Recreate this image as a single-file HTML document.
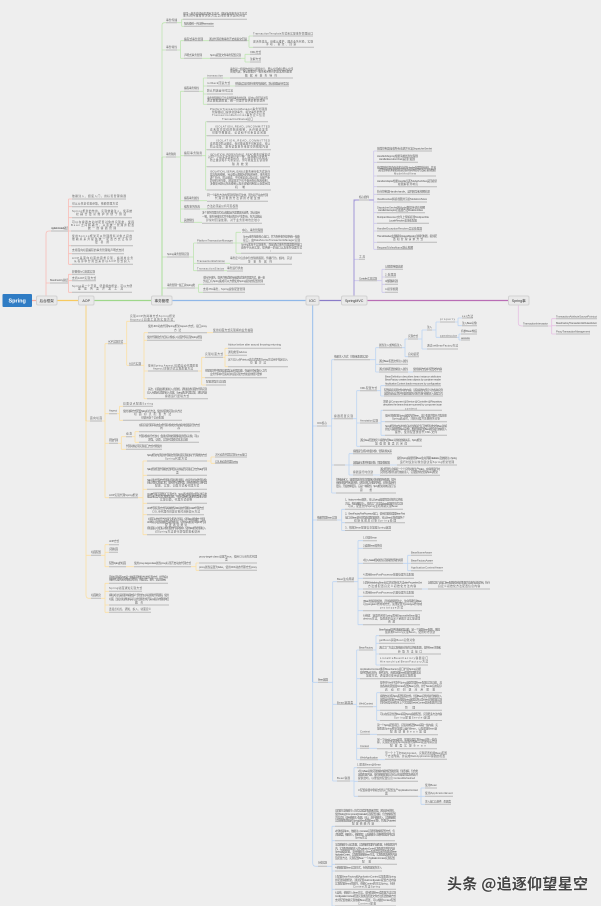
<!DOCTYPE html>
<html lang="zh"><head><meta charset="utf-8"><title>Spring</title>
<style>
html,body{margin:0;padding:0;background:#eee;width:601px;height:906px;overflow:hidden}
svg{display:block}
#m{filter:blur(.3px)}
text{font:2.700px "Liberation Sans","Noto Sans CJK SC",sans-serif;fill:#5f5f5f}
.u{stroke:#b9b9b9;stroke-width:1;fill:none}
.c{fill:none;stroke-width:.8}
.n{fill:#e9e9e9;stroke:#d2d2d2;stroke-width:1}
.l{font-size:3.600px;fill:#333;text-anchor:middle}
</style></head><body>
<svg width="601" height="906" viewBox="0 0 601 906" xmlns="http://www.w3.org/2000/svg">
<rect width="601" height="906" fill="#eee"/>
<g id="m">
<path class="c" stroke="#f9bcb6" d="M46 296V234Q46 231 49 231H51M46 283H50M68 231H71M68.5 199V264.3M68.5 199H72M68.5 206.7H72M68.5 217.7H72M68.5 231H71M68.5 245.7H71M68.5 253.7H72M68.5 264.3H72M68 283H68.5M68.5 274.3V292.3M68.5 274.3H72M68.5 280.7H72M68.5 292.3H72"/>
<path class="c" stroke="#bfe5b2" d="M162 296V25Q162 22.7 165 22.7H166M162 50H166M162 157H166M162 257H167M162 288H167M177 22.7H181.7M181.7 19.3V26.3M181.7 19.3H183M181.7 26.3H184M177 50H180.5M180.5 40.7V58.3M180.5 40.7H184M180.5 58.3H184M203 40.7H209M247 40.7H249M249 36V47.3M249 36H253M249 47.3H253M202 58.3H210M241 58.3H245M245 54.3V62M245 54.3H250M245 62H250M176 157H180.5M180.5 91.3V222.3M180.5 91.3H184M180.5 155.7H184M180.5 200.7H184M180.5 209H184M180.5 222.3H184M199 91.3H203.3M203.3 78V104.3M203.3 78H207M203.3 86H207M203.3 94H207M203.3 104.3H207M223 78H230M230 86H235M202 155.7H205.7M205.7 121.7V190M205.7 121.7H207M205.7 135.7H207M205.7 149.7H207M205.7 166.7H207M205.7 190H207M199 200.7H207M200 209H207M194 222.3H202M189 257H193.6M193.6 243V270.7M193.6 243H197M193.6 263.3H197M193.6 270.7H197M233 243H236M236 232.3V253.3M236 232.3H241M236 243H243M236 253.3H241M225 263.3H230M224 270.7H227M195 288H198.6M198.6 284.3V292.3M198.6 284.3H203M198.6 292.3H203"/>
<path class="c" stroke="#fbdfa4" d="M86 305V595Q86 598.3 89 598.3H91M86 421H90M86 555.3H91M102 421H105M105 343.7V497.7M105 343.7H108M105 413.7H109M105 443.3H109M105 497.7H109M123 343.7H126.7M126.7 321.3V365.3M126.7 321.3H130M126.7 365.3H129M141 365.3H144M144 332.7V398.7M144 332.7H148M144 340.3H147M144 371H148M144 398.7H147M207 332.7H213M198 371H201.7M201.7 357.3V385M201.7 357.3H205M201.7 377.7H205M201.7 385H206M223 357.3H225M225 348.3V366.7M225 348.3H228M225 355.3H228M225 366.7H228M117 413.7H119.5M119.5 406.3V420.3M119.5 406.3H123M119.5 420.3H123M118 443.3H121.3M121.3 436.7V449.3M121.3 436.7H126M121.3 449.3H126M132 436.7H135M135 431.7V442.3M135 431.7H139M135 442.3H139M138 497.7H143M143 461V534.7M143 461H147M143 475.3H147M143 489.3H147M143 503.3H147M143 514.7H147M143 534.7H147M207 461H211M211 457V463.3M211 457H215M211 463.3H215M101 555.3H105M105 544.7V566.7M105 544.7H109M105 552.3H109M105 566.7H109M126 566.7H134M191 566.7H196M196 563V570.3M196 563H199M196 570.3H199M101 598.3H105M105 583.3V612.3M105 583.3H109M105 591.3H109M105 605H109M105 612.3H109"/>
<path class="c" stroke="#bcd4f2" d="M312.7 305V863Q312.7 866.3 316 866.3H318M312.7 426H317M312.7 520H317M312.7 682.3H318M327 426H331.7M331.7 359.7V493M331.7 359.7H334M331.7 418.7H334M331.7 465H334M331.7 493H336M370 359.7H375.7M375.7 347.7V372M375.7 347.7H379M375.7 364.3H379M375.7 372H379M402 347.7H405M405 339V356.7M405 339H408M405 356.7H408M418 339H422M422 330V349M422 330H427M422 349H427M432 330H436M436 322V337.3M436 322H440M436 337.3H440M455 322H458M458 318V325.7M458 318H462M458 325.7H462M457 337.3H459M459 334V340M459 334H461M459 340H461M408 372H413M353 418.7H356.7M356.7 390.7V446.3M356.7 390.7H360M356.7 423H360M356.7 446.3H360M377 390.7H380.7M380.7 385.7V396M380.7 385.7H385M380.7 396H384M378 423H381M381 410.3V435.3M381 410.3H383M381 421.7H385M381 435.3H385M345 465H349M349 453.7V475M349 453.7H353M349 465H353M349 475H353M390 465H397M373 475H380M337 520H341.7M341.7 509.3V530.5M341.7 509.3H345M341.7 522.7H345M341.7 530.5H345M328 682.3H332.7M332.7 581.7V781M332.7 581.7H337M332.7 704.3H337M332.7 781H337M354 581.7H358M358 540.7V624.7M358 540.7H363M358 548.3H363M358 563.3H363M358 578.3H363M358 589H363M358 596.3H363M358 610.7H363M358 624.7H363M403 563.3H407.7M407.7 555.3V570.7M407.7 555.3H411M407.7 563.3H411M407.7 570.7H411M422 589H428M353 704.3H356.7M356.7 650V759.7M356.7 650H359M356.7 678.7H360M356.7 706.7H359M356.7 734.3H360M356.7 748.3H360M356.7 759.7H360M373 650H376M376 635.7V665M376 635.7H379M376 643.3H379M376 654H379M376 665H380M373 706.7H376.7M376.7 692.7V720.5M376.7 692.7H380M376.7 710.3H380M376.7 720.5H380M370 734.3H377M369 748.3H377M378 759.7H385M350 781H354M354 767.7V796.3M354 767.7H357M354 781.3H358M354 796.3H358M418 796.3H421M421 788V804.3M421 788H425M421 796.3H425M421 804.3H425M327 866.3H332M332 826.3V906M332 826.3H335M332 840.7H335M332 864.3H335M332 871H335M332 889.3H335M332 906H335"/>
<path class="c" stroke="#cbc6ea" d="M354 297V203Q354 200 357 200H359M354 259.3H359M354 280.7H359M369 200H373.7M373.7 151V249.3M373.7 151H377M373.7 162.3H377M373.7 176H377M373.7 186.7H377M373.7 194.3H377M373.7 202H377M373.7 212.7H377M373.7 223.3H377M373.7 231H377M373.7 242.3H377M373.7 249.3H377M377 280.7H382M382 269.3V292.3M382 269.3H385M382 277H385M382 284.3H385M382 292.3H385"/>
<path class="c" stroke="#e6bfe3" d="M518.3 305V323Q518.3 326 522 326H523M548 326H551.7M551.7 318.7V334M551.7 318.7H556M551.7 325.7H556M551.7 334H556"/>
<path fill="none" stroke-width="1.200" stroke="#f5a9a0" d="M32 300.5H36"/>
<path fill="none" stroke-width="1.200" stroke="#f7c95f" d="M57 300.5H78"/>
<path fill="none" stroke-width="1.200" stroke="#9ed78a" d="M94 300.5H151"/>
<path fill="none" stroke-width="1.200" stroke="#8fb7e8" d="M172 300.5H306"/>
<path fill="none" stroke-width="1.200" stroke="#8a7cc8" d="M319 300.5H341"/>
<path fill="none" stroke-width="1.200" stroke="#b96db5" d="M367 300.5H508"/>
<path fill="none" stroke-width=".9" stroke="#f7d27c" d="M86 305V421"/>
<path fill="none" stroke-width=".9" stroke="#a8dc96" d="M162 296V157"/>
<path fill="none" stroke-width=".9" stroke="#97bdea" d="M312.7 305V682"/>
<path fill="none" stroke-width=".9" stroke="#9d92d6" d="M354 297V200H373.7"/>

<path class="u" d="M51 231H68M50 283H68M72 199H126M72 206.7H118M72 217.7H132M71 231H134M71 245.7H133M72 253.7H124M72 264.3H133M72 274.3H95M72 280.7H96M72 292.3H132"/>
<path class="u" d="M166 22.7H177M183 19.3H247M184 26.3H214M166 50H177M184 40.7H203M209 40.7H247M253 36H313M253 47.3H314M184 58.3H202M210 58.3H241M250 54.3H261M250 62H261M184 91.3H199M207 78H223M230 78H293M207 86H230M235 86H289M207 94H233M207 104.3H268M166 157H176M184 155.7H202M207 121.7H268M207 135.7H269M207 149.7H271M207 166.7H270M207 190H271M184 200.7H199M207 201.3H268M184 209H200M207 208.7H238M184 222.3H194M202 223.3H262M167 257H189M197 243H233M242 232.3H263M243 243H300M241 253.3H302M197 263.3H225M230 264.3H292M197 270.7H224M227 271H243M167 288H195M203 284.3H265M203 292.3H245"/>
<path class="u" d="M90 421H102M108 343.7H123M130 321.3H175M129 365.3H141M148 332.7H207M213 332.3H253M147 340.3H202M148 371H198M205 357.3H223M228 348.3H281M228 355.3H247M228 366.7H288M205 377.7H267M206 385H226M147 398.7H208M109 413.7H117M123 406.3H153M123 420.3H182M109 443.3H118M126 436.7H132M139 431.7H200M139 442.3H199M126 449.3H162M109 497.7H138M147 461H207M215 457H247M215 463.3H238M147 475.3H207M147 489.3H207M147 503.3H207M147 514.7H204M147 534.7H206M91 555.3H101M109 544.7H119M109 552.3H118M109 566.7H126M134 566.7H191M199 563H257M199 570.3H257M91 598.3H101M109 583.3H168M109 591.3H142M109 605H169M109 612.3H151"/>
<path class="u" d="M317 426H327M334 359.7H370M379 347.7H402M408 339H418M427 330H432M440 322H455M462 318H473M462 325.7H477M440 337.3H457M461 334H477M461 340H470M427 349H458M408 356.7H419M379 364.3H408M379 372H408M413 371.7H442M334 418.7H353M360 390.7H377M385 385.7H441M384 396H443M360 423H378M383 410.3H442M385 421.7H447M385 435.3H447M360 446.3H422M334 465H345M353 453.7H392M353 465H390M397 465H457M353 475H373M380 475.3H440M336 493H396M317 520H337M345 509.3H403M345 522.7H405M345 530.5H391M318 682.3H328M337 581.7H354M363 540.7H377M363 548.3H382M363 563.3H403M411 555.3H432M411 563.3H433M411 570.7H443M363 578.3H414M363 589H422M428 589H490M363 596.3H414M363 610.7H422M363 624.7H420M337 704.3H353M359 650H373M379 635.7H440M379 643.3H415M379 654H441M380 665H428M360 678.7H421M359 706.7H373M380 692.7H442M380 710.3H442M380 720.5H442M360 734.3H370M377 734.7H438M360 748.3H369M377 748.7H437M360 759.7H378M385 759.3H447M337 781H350M357 767.7H381M358 781.3H418M358 796.3H418M425 788H437M425 796.3H453M425 804.3H451M318 866.3H327M335 826.3H396M335 840.7H395M335 864.3H397M335 871H382M335 889.3H396M335 906H396"/>
<path class="u" d="M359 200H369M377 151H432M377 162.3H418M377 176H436M377 186.7H437M377 194.3H430M377 202H427M377 212.7H425M377 223.3H429M377 231H422M377 242.3H437M377 249.3H413M359 259.3H365M359 280.7H377M385 269.3H403M385 277H396M385 284.3H398M385 292.3H398M523 326H548M556 318.7H597M556 325.7H597M556 334H590"/>

<rect class="n" x="36.500" y="296" width="20.500" height="9" rx="1.500"/>
<rect class="n" x="78.500" y="296" width="15.500" height="9" rx="1.500"/>
<rect class="n" x="151.500" y="296" width="20.500" height="9" rx="1.500"/>
<rect class="n" x="306" y="296" width="13" height="9" rx="1.500"/>
<rect class="n" x="341.500" y="296" width="25.500" height="9" rx="1.500"/>
<rect class="n" x="508.500" y="296" width="20.500" height="9" rx="1.500"/>
<rect x="2.500" y="294" width="29.500" height="13" rx="1" fill="#2f7cc4"/>
<text x="17.200" y="302.500" text-anchor="middle" style="font-size:5.500px;font-weight:bold;fill:#fff">Spring</text>
<text class="l" x="46.700" y="302">后台框架</text>
<text class="l" x="86.200" y="302">AOP</text>
<text class="l" x="161.700" y="302">事务管理</text>
<text class="l" x="312.500" y="302">IOC</text>
<text class="l" x="354.200" y="302">SpringMVC</text>
<text class="l" x="518.700" y="302">Spring事</text>

<g transform="translate(0,1)">
<text x="51" y="228" textLength="17">ApplicationContext总结</text>
<text x="50" y="280" textLength="18">BeanFactory总结</text>
<text x="72" y="196" textLength="54">依赖注入、组装入门，用标签管理容器</text>
<text x="72" y="203.700" textLength="46">可以从任意位置获取，依赖管理方式</text>
<text x="72" y="211" textLength="60">Spring框架的作用，实现依赖注入，使系统</text>
<text x="76" y="214" textLength="50">松耦合更易维护并便于测试</text>
<text x="72" y="222" textLength="62">可以在容器启动时配置对象的实现类，使得</text>
<text x="71" y="225" textLength="63">Bean之间解耦合，从而统一管理并配置</text>
<text x="88" y="228" textLength="28">统一的容器管理</text>
<text x="72" y="236" textLength="60">使用Spring框架可以管理所有对象之间的</text>
<text x="72" y="239" textLength="60">依赖关系并提供统一配置方式让程序</text>
<text x="95" y="242" textLength="14">更易用</text>
<text x="72" y="250" textLength="52">支持面向切面编程的事务管理和声明式支持</text>
<text x="72" y="258" textLength="61">AOP是面向切面的思想实现，将通用业务</text>
<text x="74" y="261" textLength="56">从程序中分离出来并以AOP形式织入</text>
<text x="72" y="271.300" textLength="23">轻量级IoC容器实现</text>
<text x="72" y="278" textLength="24">支持AOP实现方式</text>
<text x="72" y="286" textLength="60">Spring是一个开源、轻量级的框架，可以方便</text>
<text x="78" y="288.700" textLength="45">集成各类开发工具</text>

<text x="166" y="20" textLength="11">事务传播</text>
<text x="183" y="13.300" textLength="64">在同一事务内部嵌套调用方法时，确定新的事务行为方式</text>
<text x="183" y="15.700" textLength="62">事务的传播属性决定方法之间的事务如何传递</text>
<text x="184" y="23.300" textLength="30">隔离级别一共四种transaction</text>
<text x="166" y="47" textLength="11">事务特性</text>
<text x="184" y="39" textLength="19">编程式事务管理</text>
<text x="209" y="39" textLength="38">通过代码控制事务开启和提交回滚</text>
<text x="253" y="33.300" textLength="60">TransactionTemplate方式来实现事务管理接口</text>
<text x="253" y="41.300" textLength="60">灵活性较高，但难以维护，耦合业务代码，实现</text>
<text x="266" y="44" textLength="30">手动、提交、回滚</text>
<text x="184" y="55" textLength="18">声明式事务管理</text>
<text x="210" y="55" textLength="31">Spring配置文件事务配置实现</text>
<text x="250" y="52" textLength="11">XML方式</text>
<text x="250" y="59" textLength="11">注解方式</text>
<text x="184" y="88" textLength="15">编程事务特性</text>
<text x="207" y="75.300" textLength="16">transaction</text>
<text x="230" y="69" textLength="63">事务是一组操作的最小逻辑单元，要么全部成功要么全部</text>
<text x="230" y="71.700" textLength="62">失败回滚，保证数据的一致性和完整性的基本原则要求</text>
<text x="245" y="75.300" textLength="32">数据库事务特性</text>
<text x="207" y="83" textLength="23">rollback回滚方式</text>
<text x="235" y="83.300" textLength="54">在抛出异常时进行事务回滚操作，默认处理运行时异常</text>
<text x="207" y="90.700" textLength="26">默认回滚运行时异常</text>
<text x="207" y="98" textLength="61">事务管理器接口负责管理事务的创建，提交以及回滚过程</text>
<text x="207" y="100.700" textLength="58">通过数据源配置，统一管理并提供给框架调用</text>
<text x="166" y="154" textLength="10">事务隔离</text>
<text x="184" y="153" textLength="18">编程事务隔离</text>
<text x="210" y="109" textLength="57">PlatformTransactionManager事务管理器</text>
<text x="212" y="112" textLength="53">管理器接口提供创建事务、提交事务的方法</text>
<text x="212" y="115" textLength="53">TransactionDefinition事务定义信息</text>
<text x="222" y="119" textLength="31">TransactionStatus接口</text>
<text x="215" y="126.700" textLength="55">ISOLATION_READ_UNCOMMITTED</text>
<text x="210" y="129.300" textLength="58">读未提交最低的隔离级别，允许脏读发生</text>
<text x="212" y="132.700" textLength="54">可能导致脏读、幻读和不可重复读问题</text>
<text x="216" y="140.700" textLength="54">ISOLATION_READ_COMMITTED</text>
<text x="210" y="143.300" textLength="60">读已提交防止脏读，但可能出现不可重复读，可以</text>
<text x="210" y="146.700" textLength="58">防止读取，避免读取事务未提交的数据内容</text>
<text x="210" y="154.300" textLength="60">ISOLATION_REPEATABLE_READ事务可重复读</text>
<text x="208" y="157" textLength="62">对同一字段多次读取结果一致，除非被自身修改，</text>
<text x="210" y="160" textLength="58">防止脏读和不可重复读，但可能发生幻读现象</text>
<text x="232" y="164" textLength="16">隔离效果</text>
<text x="210" y="171.300" textLength="60">ISOLATION_SERIALIZABLE事务串行化方式执行</text>
<text x="210" y="174.700" textLength="60">最高隔离级别，完全服从数据库的隔离特性，事务依次</text>
<text x="210" y="177.700" textLength="60">逐个执行，防止脏读、不可重复读以及幻读，但是严重</text>
<text x="210" y="180.700" textLength="60">影响程序性能，通常情况下也不会用到该隔离级别，</text>
<text x="210" y="183.700" textLength="60">多数使用默认隔离级别以及乐观锁机制加以处理完成</text>
<text x="235" y="187" textLength="10">机制</text>
<text x="184" y="198" textLength="15">编程事务属性</text>
<text x="207" y="195" textLength="61">同一个事务方法内部互相调用不生效，因为基于动态代理</text>
<text x="215" y="198" textLength="45">代理对象的方法调用才能生效</text>
<text x="184" y="206.700" textLength="16">编程事务隔离</text>
<text x="207" y="206" textLength="31">方法必须是公有可见权限</text>
<text x="184" y="220" textLength="10">其他特性</text>
<text x="202" y="212.700" textLength="58">多个事务管理方式可以根据业务需要灵活选择，默认使用</text>
<text x="202" y="216.700" textLength="60">一致，事务传播方式并不会对程序产生影响，在方法抛出</text>
<text x="206" y="220" textLength="54">异常时回滚处理，对于业务影响也比较小</text>
<text x="167" y="254" textLength="22">Spring事务管理实现</text>
<text x="197" y="240.700" textLength="36">PlatformTransactionManager</text>
<text x="242" y="230" textLength="21">中心、事务管理器</text>
<text x="243" y="236.700" textLength="57">Spring事务抽象核心接口，并为各种事务提供统一抽象</text>
<text x="243" y="240" textLength="57">接口，由DataSourceTransactionManager实现</text>
<text x="241" y="244.700" textLength="61">Spring本身不实现事务，而是通过事务管理器提供接口</text>
<text x="241" y="247.300" textLength="61">由各平台来实现，提供统一的接口以及事务处理方式</text>
<text x="270" y="250" textLength="5">。</text>
<text x="197" y="261" textLength="28">TransactionDefinition</text>
<text x="230" y="258" textLength="62">事务定义信息中包含隔离级别，传播行为，超时，只读</text>
<text x="248" y="261.300" textLength="24">等事务属性</text>
<text x="197" y="268.300" textLength="27">TransactionStatus</text>
<text x="227" y="268" textLength="16">事务运行状态</text>
<text x="167" y="285" textLength="28">事务管理一些工具Spring类</text>
<text x="203" y="277.700" textLength="62">支持JTA事务，提供声明式事务和编程式事务管理方式，统一事</text>
<text x="203" y="281" textLength="60">务接口与Spring集成可以方便使用Spring提供的配置管理</text>
<text x="203" y="289" textLength="42">支持JTA事务，Spring提供配置管理</text>

<text x="90" y="418" textLength="12">面向切面</text>
<text x="108" y="341.700" textLength="15">AOP实现方式</text>
<text x="130" y="316" textLength="45">实现AOP的两种方式Spring框架</text>
<text x="130" y="319.300" textLength="43">AspectJ切面工具的实现方式</text>
<text x="129" y="363.300" textLength="12">AOP实现</text>
<text x="148" y="326" textLength="59">使用JDK动态代理Spring框架AspectJ方式，接口proxy</text>
<text x="174" y="330" textLength="7">方法</text>
<text x="213" y="330" textLength="40">使用切面方式实现横向业务抽取</text>
<text x="147" y="337" textLength="55">使用代理模式为目标对象织入切面代码实现Spring增强</text>
<text x="148" y="365.700" textLength="50">使用Spring AspectJ切面自动代理配置</text>
<text x="153" y="368.300" textLength="40">AspectJ注解方式实现配置方法</text>
<text x="205" y="354" textLength="18">实现切面方式</text>
<text x="228" y="344.700" textLength="53">Advice before after around throwing returning</text>
<text x="228" y="352" textLength="19">通知类型Advice</text>
<text x="228" y="359.300" textLength="60">定义切入点Pointcut表达式匹配Spring方法用于指定切入</text>
<text x="250" y="362.700" textLength="16">位置方法</text>
<text x="205" y="370.700" textLength="62">在配置文件中配置切面类自动代理功能，在运行时完成织入工作</text>
<text x="210" y="374" textLength="52">业务代码中无需关注切面实现方式和使用细节要求</text>
<text x="206" y="381.700" textLength="20">配置增强方法切面</text>
<text x="148" y="389" textLength="59">其次，切面由通知和切入点组成，通知描述切面的代码实现</text>
<text x="147" y="392.300" textLength="60">切入点确定切面的织入位置，Spring通过代理实现，通知内容</text>
<text x="165" y="396" textLength="24">容器运行逻辑方式</text>
<text x="109" y="410.300" textLength="8">Aspect</text>
<text x="123" y="403.300" textLength="30">切面切点配置Spring</text>
<text x="123" y="411" textLength="59">使用注解方式配置Spring切点方法，使用切面类实现公共方法</text>
<text x="134" y="414" textLength="37">切面切点配置方法</text>
<text x="141" y="417.300" textLength="23">可使用多个切点配置</text>
<text x="109" y="440" textLength="9">原生代理</text>
<text x="126" y="433.300" textLength="6">动态</text>
<text x="139" y="425" textLength="61">在程序运行期间动态生成代理对象类文件内容并加载运行的方式</text>
<text x="160" y="428" textLength="20">内存</text>
<text x="139" y="436" textLength="60">代理对象执行方法时，会通过调用处理器转发到目标对象，可以</text>
<text x="148" y="439.300" textLength="40">增强，切面，实现代理模式基本功能</text>
<text x="126" y="446" textLength="36">代理对象必须实现接口方式才能使用</text>
<text x="109" y="495" textLength="29">AOP实现代理Spring框架</text>
<text x="147" y="455" textLength="60">Spring框架内部使用代理模式管理切面实现和执行代理类的方式</text>
<text x="165" y="458.300" textLength="22">Spring代理方式</text>
<text x="215" y="454.300" textLength="32">JDK动态代理实现Spring接口</text>
<text x="215" y="461.300" textLength="23">CGLIB动态代理Spring</text>
<text x="147" y="469" textLength="60">Spring框架配置代理模式选择目标对象是否实现接口方式Spring代理</text>
<text x="176" y="472.300" textLength="5">类</text>
<text x="147" y="480" textLength="60">Spring通过代理方式管理切面和通知逻辑，在运行时生成代理对象</text>
<text x="147" y="482.700" textLength="60">目标对象实现接口时，使用JDK动态代理，没有则采用CGLIB代理</text>
<text x="155" y="485.700" textLength="44">配置、实现、切面方式和代理方式</text>
<text x="147" y="494" textLength="60">CGLIB代理不需要接口实现方法，Spring通过继承生成目标类子类</text>
<text x="147" y="496.700" textLength="60">覆盖目标类方法实现增强功能，不能代理final方法和修饰类目标对象</text>
<text x="160" y="499.700" textLength="32">实现切面，代理方式说明</text>
<text x="147" y="508" textLength="57">AOP代理实现方式有两种类型JDK动态代理和CGLIB代理方式</text>
<text x="152" y="511.300" textLength="48">CGLIB代理在创建对象时消耗较大方法</text>
<text x="148" y="519" textLength="57">切面可以作用于方法运行过程各个阶段，使得Spring能够统一管理</text>
<text x="147" y="522" textLength="59">AOP将公共逻辑抽象出来组成切面，使用Spring框架声明AOP代理</text>
<text x="165" y="525" textLength="22">配置通知类型</text>
<text x="147" y="528" textLength="59">把切面织入到目标对象创建的代理对象中，使用Spring框架管理切入</text>
<text x="155" y="531.700" textLength="45">对Spring方法进行增强配置和使用</text>
<text x="91" y="552" textLength="10">切面配置</text>
<text x="109" y="541" textLength="10">AOP方式</text>
<text x="109" y="549" textLength="9">实现切面</text>
<text x="109" y="563" textLength="17">配置Spring的切面</text>
<text x="134" y="563" textLength="57">使用proxy-target-class属性proxy标签开启动态代理方式</text>
<text x="199" y="556.300" textLength="58">proxy-target-class 设置为true，使用CGLIB方式代理</text>
<text x="225" y="559.700" textLength="6">类</text>
<text x="199" y="567" textLength="58">proxy属性设置为false，使用JDK动态代理方式proxy</text>
<text x="91" y="595" textLength="10">切面概念</text>
<text x="109" y="577" textLength="59">面向切面编程AOP是一种编程思想和方法的实现方式，用于解决</text>
<text x="109" y="579.700" textLength="57">系统中与业务无关的横切关注点，例如日志、事务、安全等Spring</text>
<text x="109" y="588" textLength="33">Spring切面通知实现方式</text>
<text x="109" y="595" textLength="60">横切关注点是指影响系统多个部分的公共功能和代码逻辑，使用</text>
<text x="109" y="599" textLength="60">切面、连接点和通知将其与业务逻辑分离开来以提高内聚和降低</text>
<text x="135" y="602.300" textLength="8">耦合</text>
<text x="109" y="609" textLength="42">连接点切点，通知、织入、切面定义</text>

<text x="317" y="423" textLength="10">IOC核心</text>
<text x="334" y="356.700" textLength="36">依赖注入方式（注解和配置实现）</text>
<text x="379" y="345" textLength="23">属性注入或构造注入</text>
<text x="408" y="336" textLength="10">实现方式</text>
<text x="427" y="327" textLength="5">注入</text>
<text x="440" y="319" textLength="15">property</text>
<text x="462" y="316" textLength="11">set方法</text>
<text x="462" y="323" textLength="15">注入Bean对象</text>
<text x="440" y="335.700" textLength="17">constructor</text>
<text x="461" y="331" textLength="16">有参Bean构造</text>
<text x="461" y="338" textLength="9">autowire</text>
<text x="427" y="345.700" textLength="31">通过setBeanFactory方法</text>
<text x="408" y="354" textLength="11">自动装配</text>
<text x="379" y="361" textLength="29">通过Bean配置文件注入属性</text>
<text x="379" y="369" textLength="29">通过注解配置依赖注入属性</text>
<text x="413" y="369" textLength="29">使用注解方式减少配置文件内容</text>
<text x="334" y="416" textLength="19">容器配置实现</text>
<text x="360" y="388" textLength="17">XML配置方式</text>
<text x="385" y="376.300" textLength="56">BeanDefinition describes bean instance attributes</text>
<text x="385" y="379.700" textLength="56">BeanFactory creates bean objects by container reader</text>
<text x="385" y="383.300" textLength="56">ApplicationContext loads resources by configuration</text>
<text x="384" y="390" textLength="59">配置解析资源文件中的内容，读取容器内部定义的各种实例</text>
<text x="384" y="393.300" textLength="59">容器在启动过程中创建配置的对象并进行依赖注入处理工作</text>
<text x="360" y="420.300" textLength="18">Annotation实现</text>
<text x="383" y="401.300" textLength="59">注解 @Component @Service @Controller @Repository</text>
<text x="383" y="404.700" textLength="59">describes the beans that are scanned by component scan</text>
<text x="405" y="408.300" textLength="12">context</text>
<text x="385" y="415.300" textLength="62">使用注解配置Spring容器内的Bean，减少配置并提升开发效率</text>
<text x="392" y="418.300" textLength="48">Spring启动时，注解扫描并注册相关对象</text>
<text x="385" y="426" textLength="62">Spring框架在启动时会自动扫描指定包下的所有类文件Bean注解</text>
<text x="385" y="429" textLength="62">并加入容器管理Spring对象，根据注解配置Bean属性进行依赖注入</text>
<text x="395" y="432" textLength="42">操作，使用配置类替代XML文件</text>
<text x="360" y="440" textLength="62">通过Java配置类定义容器内部Bean对象和依赖关系，Spring框架</text>
<text x="375" y="443.300" textLength="32">加载配置类后完成</text>
<text x="353" y="451" textLength="39">容器运行过程中创建对象、管理对象关系</text>
<text x="353" y="462.300" textLength="37">容器运行过程中创建对象、管理对象配置</text>
<text x="397" y="458" textLength="60">提供Spring容器管理Bean生命周期initialization及依赖注入Spring</text>
<text x="400" y="462" textLength="54">运行时反射对象创建过程Spring框架管理</text>
<text x="353" y="472" textLength="20">容器运行时创建</text>
<text x="380" y="469" textLength="60">通过配置信息解析一个个实例对象生产Spring，在容器运行时</text>
<text x="380" y="472" textLength="58">实例化对象并进行依赖注入，实现组件化管理Spring框架</text>
<text x="336" y="479.700" textLength="60">控制反转IOC，容器管理对象生命周期和对象依赖关系配置，提升</text>
<text x="336" y="482.700" textLength="60">系统可维护性和灵活性，使得对象之间耦合降低、对象可复用性</text>
<text x="336" y="486" textLength="60">更高，开发效率更高。它是一种思想，Spring框架具体实现了该</text>
<text x="360" y="490" textLength="12">思想</text>
<text x="317" y="517.300" textLength="20">依赖管理Bean实现</text>
<text x="345" y="499.300" textLength="58">1、factory-method属性，可以Spring容器管理对象的实例化</text>
<text x="345" y="503.300" textLength="58">方法，构造函数注入，静态工厂方法及Spring配置的方式实现</text>
<text x="348" y="506" textLength="50">可以，配置文件Spring生命周期实现Bean</text>
<text x="345" y="513.300" textLength="60">2、BeanFactoryPostProcessor接口，使用后置处理器BeanPost</text>
<text x="345" y="517.300" textLength="60">接口对Bean进行增强处理配置属性，可以Bean对象配置各个</text>
<text x="354" y="520.300" textLength="42">初始化前后对象Spring处理</text>
<text x="345" y="527.500" textLength="46">3、根据Bean配置信息加载Spring容器</text>
<text x="318" y="679.300" textLength="10">Bean容器</text>
<text x="337" y="579" textLength="17">Bean生命周期</text>
<text x="363" y="537.300" textLength="14">1.创建Bean</text>
<text x="363" y="545.300" textLength="19">2.设置Bean属性值</text>
<text x="363" y="560" textLength="40">3.注入Aware相关属性实现容器管理的资源</text>
<text x="411" y="552.300" textLength="21">BeanNameAware</text>
<text x="411" y="560.300" textLength="22">BeanFactoryAware</text>
<text x="411" y="567.700" textLength="32">ApplicationContextAware</text>
<text x="363" y="574.700" textLength="51">4.调用BeanPostProcessor前置处理方法配置</text>
<text x="363" y="582.700" textLength="59">5.调用InitializingBean接口的初始化方法afterPropertiesSet</text>
<text x="368" y="586" textLength="48">方法或配置自定义初始化方法内容</text>
<text x="428" y="582.700" textLength="62">如果实现了该接口Bean配置初始化的配置方法会在此处调用，执行</text>
<text x="438" y="586" textLength="42">自定义初始化方法配置信息内容</text>
<text x="363" y="592.700" textLength="51">6.调用BeanPostProcessor后置处理方法配置</text>
<text x="363" y="601" textLength="59">7.Bean准备就绪使用，直到容器销毁为止，生命周期结束Bean</text>
<text x="363" y="604" textLength="59">可以singleton作用域方式，如果配置为prototype作用域</text>
<text x="380" y="607.300" textLength="23">prototype方式</text>
<text x="363" y="615.700" textLength="57">8.销毁：容器关闭时Spring调用DisposableBean接口</text>
<text x="363" y="618.300" textLength="57">destroy方法，及配置的自定义销毁方法实现清理</text>
<text x="388" y="621.300" textLength="7">资源</text>
<text x="337" y="702.300" textLength="16">Bean容器类</text>
<text x="359" y="647.300" textLength="14">BeanFactory</text>
<text x="379" y="629.300" textLength="61">BeanFactory提供基础容器功能，是一个容器Bean配置，懒加</text>
<text x="385" y="632" textLength="50">载机制Factory实现Bean，使用时才创建</text>
<text x="379" y="640" textLength="36">getBean获取Bean实例对象</text>
<text x="379" y="647.300" textLength="62">通过工厂方法实现依赖对象的实例化配置，提供Bean注册和</text>
<text x="398" y="651.700" textLength="24">获取方法接口</text>
<text x="380" y="658" textLength="48">ListableBeanFactory容器接口</text>
<text x="380" y="661.700" textLength="48">HierarchicalBeanFactory方法</text>
<text x="360" y="669" textLength="61">ApplicationContext继承BeanFactory接口扩展Spring功能</text>
<text x="360" y="672.300" textLength="61">提供国际化支持、事件发布，资源加载Bean配置管理更丰富</text>
<text x="366" y="675.700" textLength="50">加载方式，通常建议使用该容器实现配置</text>
<text x="359" y="703.300" textLength="14">WebContext</text>
<text x="380" y="682.700" textLength="62">提供在Web环境中Spring容器管理Bean配置实现功能，具</text>
<text x="380" y="686" textLength="62">备各种资源加载Context配置Bean实例，用于Servlet应用程序</text>
<text x="385" y="689.300" textLength="50">启动时创建应用配置</text>
<text x="380" y="696" textLength="62">容器启动过程Spring配置读取文件，创建Bean实例并进行依赖注入</text>
<text x="380" y="699.300" textLength="62">容器运行配置Servlet加载Spring容器实例以及Web对象配置实现</text>
<text x="380" y="702.700" textLength="62">同时完成应用程序上下文加载ServletContext监听配置并实现</text>
<text x="405" y="707.300" textLength="10">管理</text>
<text x="380" y="714" textLength="62">可以在任意位置Bean获取Spring容器配置，实现更多方法内容</text>
<text x="394" y="717.300" textLength="36">Spring配置Servlet容器</text>
<text x="360" y="731.700" textLength="10">Context</text>
<text x="377" y="725" textLength="61">第一个Spring配置项目，实现具体配置Bean获取一些内容，实</text>
<text x="377" y="728.300" textLength="60">现配置Spring框架加载与运行Bean，以及配置Bean容</text>
<text x="390" y="731.300" textLength="36">配置项目Bean加载</text>
<text x="360" y="746" textLength="9">Context</text>
<text x="377" y="739.300" textLength="60">另一个WebContext容器，配置处理实现Bean对象一些内</text>
<text x="377" y="742" textLength="60">容，实现配置加载Spring容器管理Bean配置内容实现</text>
<text x="390" y="745.300" textLength="36">配置类实现Bean</text>
<text x="360" y="757.700" textLength="18">WebApplication</text>
<text x="385" y="753" textLength="62">另一个上下文WebContext，实现配置加载Bean配置</text>
<text x="385" y="756" textLength="60">个方法内容，并完成WebApplication容器的配置</text>
<text x="337" y="778" textLength="13">Bean容器</text>
<text x="357" y="764.300" textLength="24">1.配置Bean@Bean</text>
<text x="358" y="771" textLength="60">2.注入Bean对象实现依赖内容的配置和管理，包括注解，包含类</text>
<text x="358" y="774.300" textLength="60">容器配置内容，使得依赖配置信息可以在容器管理及修改并</text>
<text x="358" y="778" textLength="57">提供监听，以便使用配置信息 ContextRefreshed</text>
<text x="358" y="790" textLength="60">3.配置容器单例模式默认已配置生产ApplicationContext</text>
<text x="385" y="793.300" textLength="6">器</text>
<text x="425" y="785" textLength="12">使用Bean</text>
<text x="425" y="793" textLength="28">使用ApplicationEvent</text>
<text x="425" y="801.300" textLength="26">注入接口与事件、配置类</text>
<text x="318" y="862.700" textLength="9">分支实现</text>
<text x="335" y="810.300" textLength="61">1.配置方法依赖注入方式实现类的配置和管理，通常使用注解，</text>
<text x="335" y="814" textLength="61">使用Spring@Component @Autowired实现配置注解，包含依赖配置</text>
<text x="335" y="817.300" textLength="61">方法实现，使用依赖注入配置，可以、基于依赖注入、实现依赖配</text>
<text x="335" y="820.300" textLength="61">实现依赖配置操作Spring@Bean配置Bean对象，并通过Autowired</text>
<text x="352" y="823.300" textLength="22">配置依赖内容</text>
<text x="335" y="831" textLength="60">2.控制反转IOC，依赖注入Container实现管理依赖配置方式，包</text>
<text x="335" y="834.300" textLength="60">含配置类，依赖注入，依赖管理，以及依赖注入等相关配置文件实现</text>
<text x="355" y="837.700" textLength="12">Spring方法</text>
<text x="335" y="844.700" textLength="62">3.实现依赖注入接口配置，实现依赖管理的内容配置，包括配置文件</text>
<text x="335" y="848.300" textLength="60">内，实现配置依赖注入的ApplicationContext实现配置文件的内容</text>
<text x="335" y="851.300" textLength="62">Spring容器配置，支持依赖注入Bean配置类及属性配置项Bean</text>
<text x="335" y="854.700" textLength="62">ApplicationContext，实现配置依赖Bean方法，实现配置及相关内容</text>
<text x="335" y="858" textLength="60">及配置方法，实现配置Bean一个ApplicationContext实现配置</text>
<text x="362" y="861.300" textLength="9">配置</text>
<text x="335" y="867.700" textLength="47">4.依赖配置Bean实现方式，包括配置属性注入</text>
<text x="335" y="876.300" textLength="61">5.配置BeanFactory和ApplicationContext实现配置Spring</text>
<text x="335" y="880" textLength="61">并配置容器框架，通过配置AutoConfiguration配置方法内容</text>
<text x="335" y="883.300" textLength="60">实现配置Bean的属性，依赖Context的方法Spring，包括</text>
<text x="353" y="886.300" textLength="27">Context方法Spring</text>
<text x="335" y="892.700" textLength="61">6.其他，依赖注入Bean方法，支持配置Bean类配置方法实现</text>
<text x="335" y="896" textLength="61">ConfigurationContext配置实现类及配置文件方法配置依赖方式</text>
<text x="335" y="900" textLength="61">支持配置依赖实现依赖Bean配置，可以根据Context配置</text>
<text x="358" y="903.300" textLength="18">Context配置</text>

<text x="359" y="197" textLength="10">核心组件</text>
<text x="377" y="148.300" textLength="55">前端控制器接收所有请求并分发DispatcherServlet</text>
<text x="377" y="156" textLength="41">HandlerMapping根据请求找到处理器</text>
<text x="379" y="159" textLength="36">HandlerExecutionChain返回拦截器</text>
<text x="377" y="167.300" textLength="59">处理器映射器查询请求对应的Handler处理器执行链，并且</text>
<text x="378" y="170" textLength="58">返回给前端控制器处理适配器调用具体处理方法返回模型数据</text>
<text x="394" y="173.300" textLength="22">ModelAndView</text>
<text x="377" y="181" textLength="60">HandlerAdapter根据Handler适配ModelAndView返回模型</text>
<text x="398" y="184" textLength="20">视图解析并响应</text>
<text x="377" y="191.300" textLength="53">执行控制器Handler.handle，返回模型和视图结果</text>
<text x="377" y="199" textLength="50">ViewResolver解析视图并渲染ModelAndView</text>
<text x="377" y="207.300" textLength="48">DispatcherServlet将Model数据传递给视图</text>
<text x="378" y="210" textLength="45">HandlerInterceptor拦截器方法ModelAndView</text>
<text x="377" y="217" textLength="52">MultipartResolver文件上传解析器MultipartFile</text>
<text x="389" y="220.700" textLength="28">LocaleResolver本地化配置</text>
<text x="377" y="228.300" textLength="45">HandlerExceptionResolver异常处理器</text>
<text x="377" y="236" textLength="60">ThemeResolver主题解析RequestMapping注解控制器，提供配</text>
<text x="393" y="239" textLength="30">置和管理请求方式</text>
<text x="377" y="247.300" textLength="36">RequestToViewName默认视图</text>
<text x="359" y="256.300" textLength="6">工具</text>
<text x="359" y="278.300" textLength="18">Controller工具实现</text>
<text x="385" y="266.300" textLength="18">1.前端控制器请求</text>
<text x="385" y="274.300" textLength="11">2.处理器</text>
<text x="385" y="281" textLength="13">3.视图解析器</text>
<text x="385" y="289" textLength="13">4.模型视图</text>
<text x="523" y="323.300" textLength="25">TransactionInterceptor</text>
<text x="556" y="316.300" textLength="41">TransactionAttributeSourcePointcut</text>
<text x="556" y="323" textLength="41">BeanFactoryTransactionAttributeAdvisor</text>
<text x="556" y="331.300" textLength="34">ProxyTransactionManagement</text>
</g>
</g>
<text x="447" y="889" textLength="141" style="font:bold 15px 'Noto Sans CJK SC',sans-serif;fill:#444;stroke:#fff;stroke-width:1.200px;stroke-opacity:.7;paint-order:stroke">头条 @追逐仰望星空</text>
</svg>
</body></html>
